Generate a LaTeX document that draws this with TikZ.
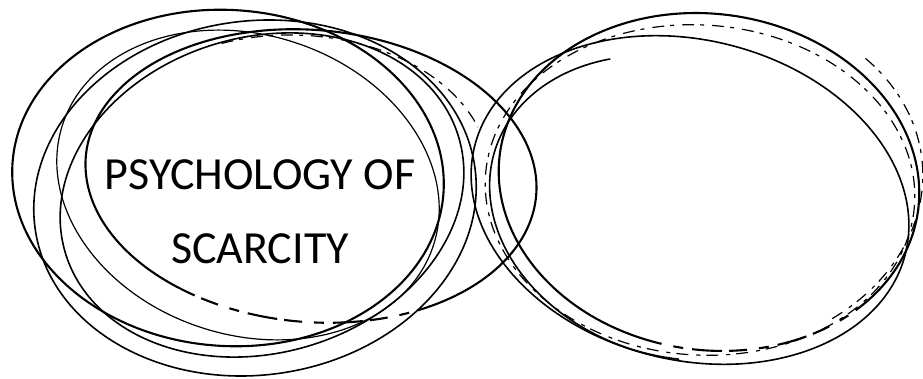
\documentclass[tikz,border=0pt]{standalone}
\usepackage{fontspec}
\setmainfont{Carlito}
\begin{document}
\begin{tikzpicture}[x=1pt,y=-1pt,
  scrib/.style={draw=black,line width=2.1pt,line cap=round},
  scribmid/.style={draw=black,line width=1.6pt,line cap=round},
  scribthin/.style={draw=black,line width=1.2pt,line cap=round},
  scribfaint/.style={draw=black,line width=1.2pt,dash pattern=on 12pt off 6pt on 4pt off 8pt},
  scribbroken/.style={draw=black,line width=2.1pt,dash pattern=on 30pt off 9pt on 10pt off 12pt on 18pt off 7pt},
  lbl/.style={font=\fontsize{46}{52}\selectfont,anchor=base,inner sep=0pt}]
\useasboundingbox (0,0) rectangle (923,379);
% ---------- left group ----------
% outer-left ellipse (left edge ~12, right edge ~443)
\draw[scrib,rotate around={-4:(228,178)}] (228,178) ellipse [x radius=216,y radius=168];
% wide ellipse (left ~85, right ~538)
\begin{scope}[shift={(311,176)},rotate=-5]
  \draw[scrib] ({226*cos(120)},{146*sin(120)}) arc[start angle=120,end angle=410,x radius=226,y radius=146];
  \draw[scribbroken] ({226*cos(50)},{146*sin(50)}) arc[start angle=50,end angle=120,x radius=226,y radius=146];
\end{scope}
\draw[scribmid,rotate around={8:(255,198)}] (255,198) ellipse [x radius=222,y radius=177];
\draw[scribmid,rotate around={16:(262,195)}] (262,195) ellipse [x radius=205,y radius=158];
\draw[scribthin,rotate around={-18:(248,185)}] (248,185) ellipse [x radius=195,y radius=150];
\begin{scope}[shift={(290,175)}]
  \draw[scribfaint] ({200*cos(250)},{140*sin(250)}) arc[start angle=250,end angle=340,x radius=200,y radius=140];
\end{scope}
% ---------- right group ----------
\begin{scope}[shift={(709,182)},rotate=-8]
  \draw[scrib] ({211*cos(100)},{168*sin(100)}) arc[start angle=100,end angle=390,x radius=211,y radius=168];
  \draw[scribbroken] ({211*cos(30)},{168*sin(30)}) arc[start angle=30,end angle=100,x radius=211,y radius=168];
\end{scope}
\draw[scribmid,rotate around={-14:(690,200)}] (690,200) ellipse [x radius=222,y radius=160];
\draw[scribfaint,rotate around={-4:(700,190)}] (700,190) ellipse [x radius=215,y radius=165];
\begin{scope}[shift={(676,208)},rotate=-18]
  \draw[scribmid] ({190*cos(75)},{148*sin(75)}) arc[start angle=75,end angle=235,x radius=190,y radius=148];
\end{scope}
\begin{scope}[shift={(712,180)},rotate=4]
  \draw[scribfaint] ({211*cos(-40)},{172*sin(-40)}) arc[start angle=-40,end angle=60,x radius=211,y radius=172];
\end{scope}
% ---------- text ----------
\node[lbl] (t1) at (260,190) {PSYCHOLOGY OF};
\node[lbl] (t2) at (260,263) {SCARCITY};
\end{tikzpicture}
\end{document}
